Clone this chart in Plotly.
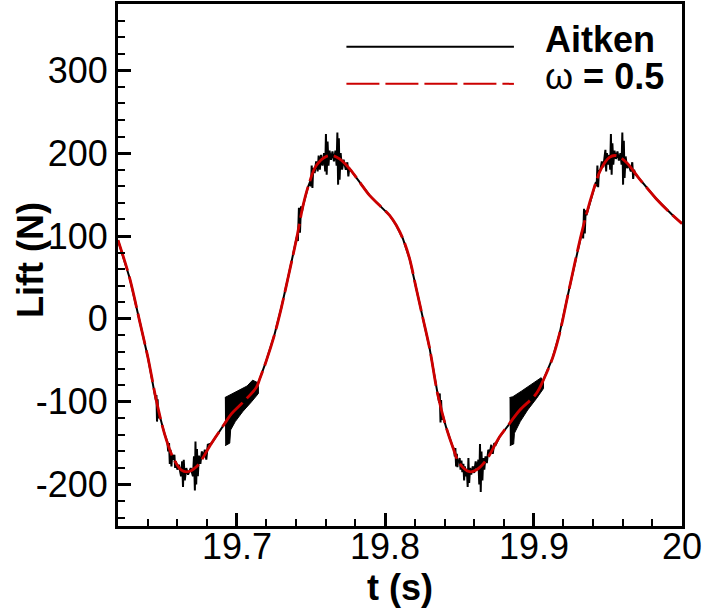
import numpy as np
import plotly.graph_objects as go

# ---------------------------------------------------------------------------
# Lift history, omega = 0.5 under-relaxation (smooth response)
# ---------------------------------------------------------------------------
t_relax = [19.6200, 19.6279, 19.6346, 19.6402, 19.6459, 19.6514, 19.6570,
           19.6627, 19.6671, 19.6728, 19.6829, 19.6920, 19.6964, 19.7031,
           19.7132, 19.7156, 19.7199, 19.7255, 19.7300, 19.7345, 19.7401,
           19.7446, 19.7480, 19.7536, 19.7603, 19.7648, 19.7693, 19.7761,
           19.7828, 19.7895, 19.7962, 19.8030, 19.8075, 19.8119, 19.8164,
           19.8209, 19.8254, 19.8299, 19.8355, 19.8411, 19.8456, 19.8501,
           19.8568, 19.8613, 19.8681, 19.8770, 19.8835, 19.8905, 19.9017,
           19.9068, 19.9129, 19.9174, 19.9241, 19.9331, 19.9399, 19.9455,
           19.9511, 19.9556, 19.9624, 19.9713, 19.9826, 19.9937, 20.0000]
lift_relax = [95, 49, -3, -47, -99, -139, -167,
              -182.5, -184.5, -178.5, -150.5, -126, -114.6, -102.6,
              -82.7, -72, -50.7, -18.7, 13, 49, 95,
              136, 159, 185, 196, 197, 193, 181,
              165, 149, 137, 125, 113, 97, 73,
              37, 1, -35, -92, -131, -155, -174.5,
              -184.5, -182.5, -170.5, -142.6, -127, -110.6, -90.6,
              -73, -46.7, -18.7, 37, 109, 153, 181,
              195, 197, 189, 169, 145, 125, 115]

# ---------------------------------------------------------------------------
# Aitken coupling: same history with sub-iteration oscillation bursts
# ---------------------------------------------------------------------------
# first period
spike1_t = [19.6455, 19.6459, 19.6463, 19.6467, 19.6471, 19.6475]
spike1_lift = [-98, -92, -124, -97, -120, -113]

spike2_t = [19.6533, 19.6538, 19.6544, 19.6549, 19.6554, 19.6560, 19.6565]
spike2_lift = [-149, -160, -150, -175, -158, -178, -164]

trough1_t = [19.6575, 19.6580, 19.6585, 19.6590, 19.6600, 19.6610, 19.6625,
             19.6632, 19.6638, 19.6643, 19.6650, 19.6660, 19.6672, 19.6690,
             19.6705, 19.6712, 19.6718, 19.6722, 19.6727, 19.6732, 19.6738,
             19.6745, 19.6755, 19.6765, 19.6775, 19.6785, 19.6795, 19.6805]
trough1_lift = [-170, -164, -180, -172, -182, -176, -190,
                -172, -203, -170, -195, -180, -188, -180,
                -190, -166, -207, -148, -200, -157, -190,
                -165, -175, -160, -167, -158, -170, -152]

# dense oscillation band on the rising branch: upper / lower envelope
band1_t_upper = [19.6920, 19.6960, 19.7020, 19.7070, 19.7107, 19.7141, 19.7146]
band1_upper = [-95, -91, -86, -81, -74, -77, -82]
band1_t_lower = [19.7146, 19.7100, 19.7040, 19.6990, 19.6959, 19.6953, 19.6922]
band1_lower = [-90, -100, -112, -124, -134, -150, -153]

spike3_t = [19.7405, 19.7412, 19.7419, 19.7426, 19.7433, 19.7440]
spike3_lift = [99, 94, 134, 104, 136, 130]

crest1_t = [19.7495, 19.7500, 19.7505, 19.7510, 19.7515, 19.7525, 19.7535,
            19.7545, 19.7552, 19.7560, 19.7568, 19.7578, 19.7588, 19.7596,
            19.7601, 19.7606, 19.7612, 19.7618, 19.7625, 19.7635, 19.7645,
            19.7655, 19.7665, 19.7673, 19.7678, 19.7683, 19.7688, 19.7693,
            19.7700, 19.7710, 19.7720, 19.7735, 19.7745, 19.7752, 19.7758,
            19.7765]
crest1_lift = [166, 160, 185, 158, 182, 176, 190,
               178, 197, 180, 198, 185, 200, 178,
               223, 174, 214, 185, 203, 192, 202,
               190, 203, 185, 225, 162, 218, 168,
               200, 180, 192, 180, 189, 172, 182,
               180]

# second period
spike4_t = [19.8364, 19.8368, 19.8373, 19.8377, 19.8382, 19.8386]
spike4_lift = [-101, -90, -125, -98, -122, -115]

spike5_t = [19.8464, 19.8469, 19.8473, 19.8478, 19.8483, 19.8487, 19.8492]
spike5_lift = [-157, -166, -156, -178, -163, -179, -170]

trough2_t = [19.8495, 19.8502, 19.8508, 19.8514, 19.8520, 19.8527, 19.8532,
             19.8537, 19.8543, 19.8550, 19.8556, 19.8561, 19.8566, 19.8572,
             19.8580, 19.8590, 19.8600, 19.8610, 19.8620, 19.8628, 19.8634,
             19.8639, 19.8644, 19.8649, 19.8655, 19.8661, 19.8668, 19.8676,
             19.8685, 19.8695, 19.8705, 19.8715, 19.8725, 19.8735, 19.8745]
trough2_lift = [-173, -168, -182, -171, -185, -175, -195,
                -178, -190, -181, -203, -168, -198, -180,
                -188, -178, -186, -172, -182, -170, -200,
                -151, -209, -160, -195, -168, -182, -166,
                -174, -158, -162, -152, -163, -150, -152]

band2_t_upper = [19.8838, 19.8860, 19.8920, 19.8980, 19.9030, 19.9051, 19.9067]
band2_upper = [-95, -94, -87, -80, -74, -71, -76]
band2_t_lower = [19.9067, 19.9020, 19.8960, 19.8910, 19.8871, 19.8866, 19.8840]
band2_lower = [-84, -96, -110, -124, -138, -151, -153]

spike6_t = [19.9329, 19.9334, 19.9340, 19.9345, 19.9351, 19.9356]
spike6_lift = [107, 97, 133, 103, 131, 125]

crest2_t = [19.9420, 19.9425, 19.9430, 19.9435, 19.9440, 19.9450, 19.9460,
            19.9470, 19.9484, 19.9489, 19.9494, 19.9502, 19.9510, 19.9516,
            19.9521, 19.9526, 19.9531, 19.9537, 19.9545, 19.9555, 19.9565,
            19.9575, 19.9585, 19.9593, 19.9598, 19.9603, 19.9608, 19.9613,
            19.9620, 19.9630, 19.9640, 19.9655, 19.9665, 19.9671, 19.9677,
            19.9685]
crest2_lift = [165, 160, 185, 159, 178, 180, 190,
               183, 204, 178, 200, 186, 198, 180,
               223, 174, 212, 186, 203, 193, 202,
               191, 200, 186, 225, 162, 215, 170,
               196, 182, 186, 178, 189, 169, 180,
               175]

x_tick_vals = [19.7, 19.8, 19.9, 20.0]
x_tick_text = ["19.7", "19.8", "19.9", "20"]
y_tick_vals = [-200, -100, 0, 100, 200, 300]
y_tick_text = ["-200", "-100", "0", "100", "200", "300"]

legend_names = ["Aitken", "ω = 0.5"]

# ---------------------------------------------------------------------------
# assemble the Aitken series: smooth history outside the bursts, burst samples inside
# ---------------------------------------------------------------------------
bursts = [
    (spike1_t, spike1_lift), (spike2_t, spike2_lift), (trough1_t, trough1_lift),
    (spike3_t, spike3_lift), (crest1_t, crest1_lift),
    (spike4_t, spike4_lift), (spike5_t, spike5_lift), (trough2_t, trough2_lift),
    (spike6_t, spike6_lift), (crest2_t, crest2_lift),
]
samples = list(zip(t_relax, lift_relax))
for bt, bl in bursts:
    lo, hi = bt[0], bt[-1]
    samples = [(t, v) for t, v in samples if not (lo <= t <= hi)]
    samples += list(zip(bt, bl))
samples.sort(key=lambda p: p[0])
t_aitken = [p[0] for p in samples]
lift_aitken = [p[1] for p in samples]

RED = "#cc0000"
FONT = "Liberation Sans, Arial, sans-serif"

fig = go.Figure()
# oscillation bands of the Aitken run, filled between their envelopes
for tu, vu, tl, vl in [(band1_t_upper, band1_upper, band1_t_lower, band1_lower),
                       (band2_t_upper, band2_upper, band2_t_lower, band2_lower)]:
    fig.add_trace(go.Scatter(x=tu + tl, y=vu + vl, mode="lines", fill="toself",
                             fillcolor="black", line=dict(color="black", width=1),
                             hoverinfo="skip", showlegend=False))
fig.add_trace(go.Scatter(x=t_aitken, y=lift_aitken, mode="lines", name=legend_names[0],
                         line=dict(color="black", width=2)))
fig.add_trace(go.Scatter(x=t_relax, y=lift_relax, mode="lines", name=legend_names[1],
                         line=dict(color=RED, width=2.8, dash="32px,6px", shape="spline")))

axis_common = dict(
    showline=True, linewidth=3, linecolor="black", mirror=True,
    showgrid=False, zeroline=False,
    ticks="inside", ticklen=13, tickwidth=2.5, tickcolor="black",
    tickfont=dict(family=FONT, size=36, color="black"),
)
fig.update_xaxes(range=[19.62, 20.0], tickmode="array", tickvals=x_tick_vals,
                 showticklabels=False,
                 minor=dict(tickmode="linear", tick0=19.62, dtick=0.02, ticks="inside",
                            ticklen=7, tickwidth=1.5, tickcolor="black", showgrid=False),
                 **axis_common)
fig.update_yaxes(range=[-250, 380], tickmode="array", tickvals=y_tick_vals,
                 ticktext=y_tick_text,
                 minor=dict(tickmode="linear", tick0=0, dtick=20, ticks="inside",
                            ticklen=7, tickwidth=1.5, tickcolor="black", showgrid=False),
                 **axis_common)

# time-axis labels, set close under the axis line
for v, s in zip(x_tick_vals, x_tick_text):
    fig.add_annotation(x=v, xref="x", y=-0.040, yref="paper", xanchor="center",
                       yanchor="middle", showarrow=False, text=s,
                       font=dict(family=FONT, size=36, color="black"))

# legend drawn as sample lines + labels in the upper right
LX0, LX1 = 0.405, 0.702
fig.add_shape(type="line", xref="paper", yref="paper", x0=LX0, x1=LX1, y0=0.918, y1=0.918,
              line=dict(color="black", width=2))
fig.add_shape(type="line", xref="paper", yref="paper", x0=LX0, x1=LX1, y0=0.847, y1=0.847,
              line=dict(color=RED, width=2, dash="33px,6px"))
fig.add_annotation(x=0.754, y=0.932, xref="paper", yref="paper", xanchor="left",
                   yanchor="middle", showarrow=False,
                   text="<b>%s</b>" % legend_names[0],
                   font=dict(family=FONT, size=36, color="black"))
fig.add_annotation(x=0.754, y=0.861, xref="paper", yref="paper", xanchor="left",
                   yanchor="middle", showarrow=False,
                   text="ω<b> = 0.5</b>",
                   font=dict(family=FONT, size=36, color="black"))

# axis titles
fig.add_annotation(x=0.5, y=-0.118, xref="paper", yref="paper", xanchor="center",
                   yanchor="middle", showarrow=False, text="<b>t (s)</b>",
                   font=dict(family=FONT, size=36, color="black"))
fig.add_annotation(x=-0.154, y=0.51, xref="paper", yref="paper", xanchor="center",
                   yanchor="middle", showarrow=False, textangle=-90, text="<b>Lift (N)</b>",
                   font=dict(family=FONT, size=36, color="black"))

fig.update_layout(width=703, height=608, margin=dict(l=118, r=21, t=1, b=82),
                  paper_bgcolor="white", plot_bgcolor="white", showlegend=False,
                  font=dict(family=FONT, size=36, color="black"))

fig.write_html("out.html")
